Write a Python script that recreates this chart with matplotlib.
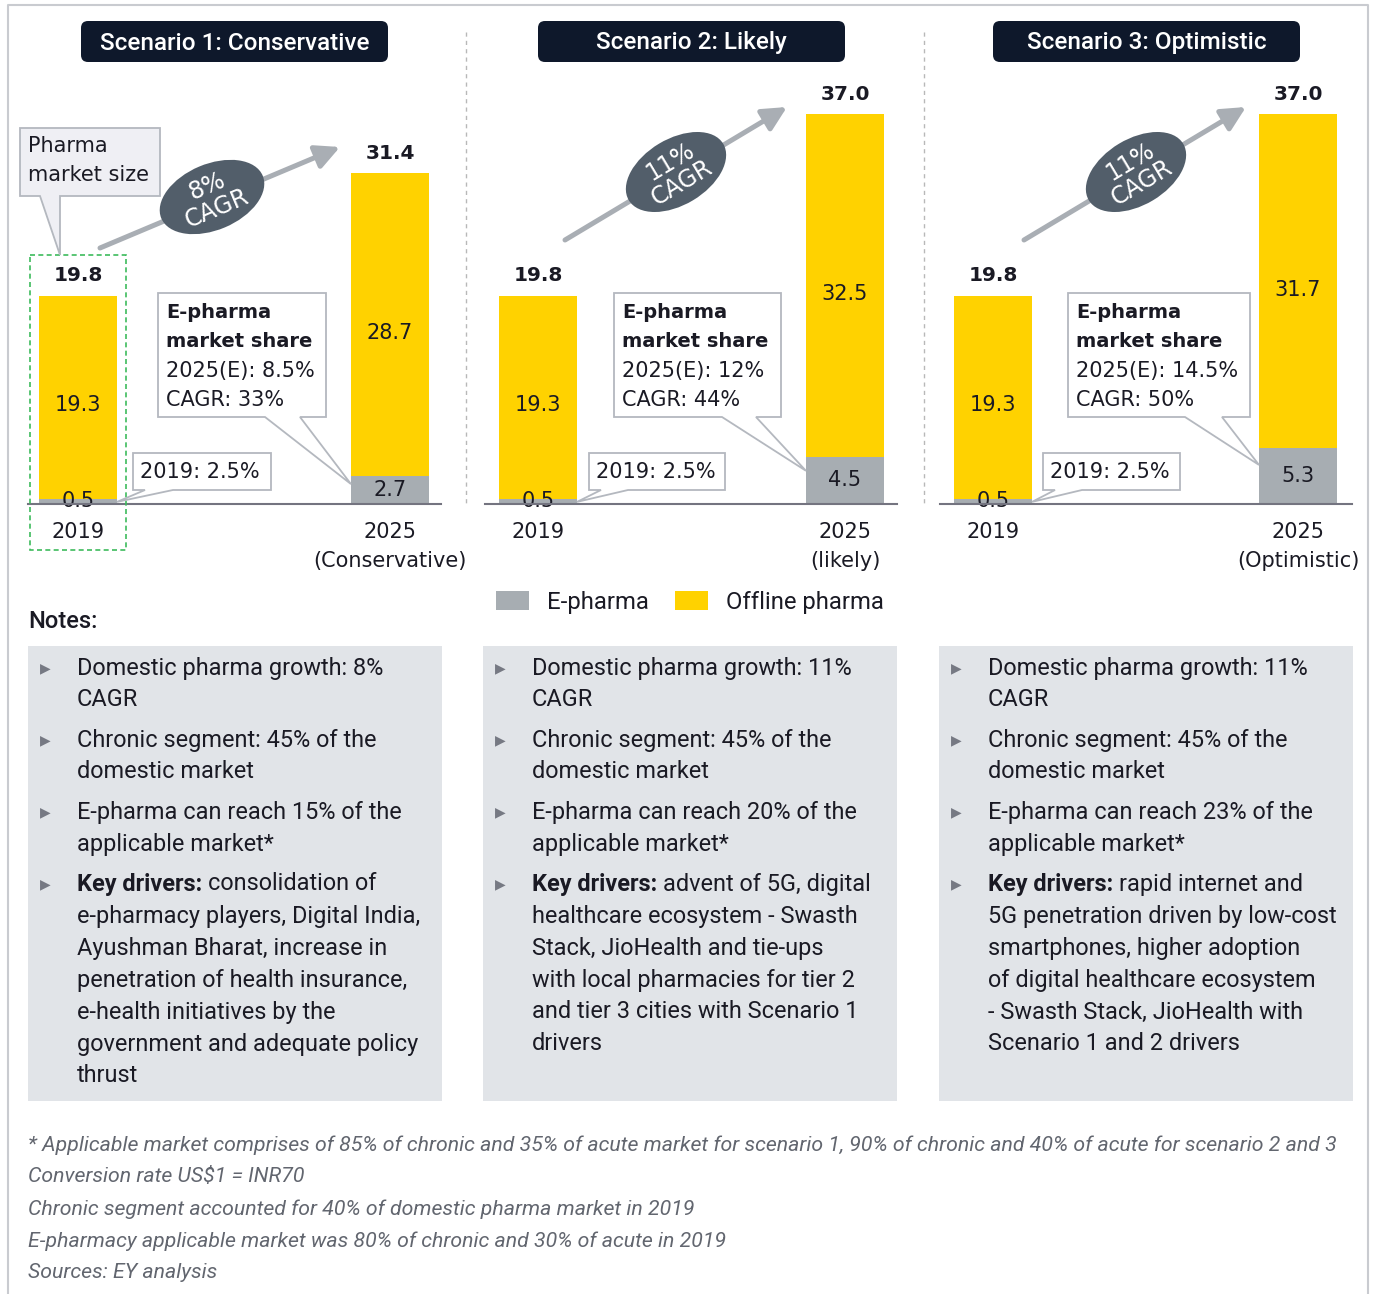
import matplotlib.pyplot as plt
from matplotlib.patches import Rectangle, Polygon, Ellipse, FancyBboxPatch, FancyArrowPatch
import numpy as np

# Market size (US$ billion) split into e-pharma and offline pharma
scenarios = ['Scenario 1: Conservative', 'Scenario 2: Likely', 'Scenario 3: Optimistic']
year_labels = [['2019', '2025\n(Conservative)'],
               ['2019', '2025\n(likely)'],
               ['2019', '2025\n(Optimistic)']]
epharma = [[0.5, 2.7], [0.5, 4.5], [0.5, 5.3]]
offline = [[19.3, 28.7], [19.3, 32.5], [19.3, 31.7]]
market_cagr = ['8%', '11%', '11%']
share_2019 = ['2.5%', '2.5%', '2.5%']
share_2025 = ['8.5%', '12%', '14.5%']
epharma_cagr = ['33%', '44%', '50%']

notes = [
    [['Domestic pharma growth: 8%', 'CAGR'],
     ['Chronic segment: 45% of the', 'domestic market'],
     ['E-pharma can reach 15% of the', 'applicable market*'],
     ['Key drivers: consolidation of', 'e-pharmacy players, Digital India,',
      'Ayushman Bharat, increase in', 'penetration of health insurance,',
      'e-health initiatives by the', 'government and adequate policy', 'thrust']],
    [['Domestic pharma growth: 11%', 'CAGR'],
     ['Chronic segment: 45% of the', 'domestic market'],
     ['E-pharma can reach 20% of the', 'applicable market*'],
     ['Key drivers: advent of 5G, digital', 'healthcare ecosystem - Swasth',
      'Stack, JioHealth and tie-ups', 'with local pharmacies for tier 2',
      'and tier 3 cities with Scenario 1', 'drivers']],
    [['Domestic pharma growth: 11%', 'CAGR'],
     ['Chronic segment: 45% of the', 'domestic market'],
     ['E-pharma can reach 23% of the', 'applicable market*'],
     ['Key drivers: rapid internet and', '5G penetration driven by low-cost',
      'smartphones, higher adoption', 'of digital healthcare ecosystem',
      '- Swasth Stack, JioHealth with', 'Scenario 1 and 2 drivers']],
]
footnotes = [
    '* Applicable market comprises of 85% of chronic and 35% of acute market for scenario 1, '
    '90% of chronic and 40% of acute for scenario 2 and 3',
    'Conversion rate US$1 = INR70',
    'Chronic segment accounted for 40% of domestic pharma market in 2019',
    'E-pharmacy applicable market was 80% of chronic and 30% of acute in 2019',
    'Sources: EY analysis',
]

YELLOW = '#FFD200'
GREY = '#A7ADB2'
NAVY = '#0E182B'
SLATE = '#525E6A'
ARROW = '#A9AEB4'
TXT = '#1A1A24'
NOTE_BG = '#E1E4E8'
EDGE = '#B4B8BF'
SANS2 = ['Roboto', 'DejaVu Sans']

plt.rcParams['font.family'] = ['DejaVu Sans']

W, H = 1375, 1294
fig = plt.figure(figsize=(W / 100, H / 100), dpi=100)

# pixel layout of the three bar panels
BASE = 504
PX_PER_UNIT = 10.53
YMAX = 45
bar_centres = [(78, 390), (538, 845), (993, 1298)]
axis_span = [(28, 441), (485, 897), (940, 1352)]
bar_px = 78

# overlay in pixel units for boxes, arrows and notes
ov = fig.add_axes([0, 0, 1, 1], zorder=5)
ov.set_xlim(0, W)
ov.set_ylim(H, 0)
ov.axis('off')
ov.patch.set_visible(False)


def to_px(ax, x, y):
    X, Y = ax.transData.transform((x, y))
    return X, H - Y


def callout(x0, y0, x1, y1, wl, wr, tip, face='white'):
    verts = [(x0, y0), (x1, y0), (x1, y1), (wr, y1), tip, (wl, y1), (x0, y1)]
    ov.add_patch(Polygon(verts, closed=True, fc=face, ec=EDGE, lw=1.3, zorder=3))


# callout boxes: (left, right) of e-pharma share box, wedge; 2019 box
share_box = [(158, 326, 265, 300), (614, 781, 722, 756), (1068, 1250, 1185, 1222)]
small_box = [(133, 271, 145, 173), (589, 725, 601, 628), (1043, 1180, 1055, 1082)]
arrows = [((100, 248), (340, 147)), ((565, 240), (787, 107)), ((1024, 240), (1246, 107))]
ellipse_c = [(212, 197), (676, 172), (1136, 172)]
title_left = [81, 538, 993]

handles = None
for i in range(3):
    c1, c2 = bar_centres[i]
    L, R = axis_span[i]
    scale = c2 - c1
    ax = fig.add_axes([L / W, 1 - BASE / H, (R - L) / W, YMAX * PX_PER_UNIT / H])
    ax.patch.set_visible(False)
    ax.set_xlim((L - c1) / scale, (R - c1) / scale)
    ax.set_ylim(0, YMAX)
    x = np.arange(2)
    width = bar_px / scale
    b1 = ax.bar(x, epharma[i], width, color=GREY, label='E-pharma', zorder=2)
    b2 = ax.bar(x, offline[i], width, bottom=epharma[i], color=YELLOW,
                label='Offline pharma', zorder=2)
    if handles is None:
        handles = [b1, b2]
    totals = np.add(epharma[i], offline[i])
    for xi, e, o, t in zip(x, epharma[i], offline[i], totals):
        ax.annotate(f'{t:.1f}', (xi, t), xytext=(0, 7.5), textcoords='offset points',
                    ha='center', va='bottom', fontsize=14.5, fontweight='bold', color=TXT)
        ax.annotate(f'{o:.1f}', (xi, e + o / 2), xytext=(0, -6), textcoords='offset points',
                    ha='center', va='center', fontsize=15, color=TXT, zorder=4)
        ax.text(xi, e / 2, f'{e:.1f}', ha='center', va='center', fontsize=15, color=TXT,
                zorder=4)
    for s in ['top', 'left', 'right']:
        ax.spines[s].set_visible(False)
    ax.spines['bottom'].set_color('#747480')
    ax.spines['bottom'].set_linewidth(1.5)
    ax.spines['bottom'].set_zorder(5)
    ax.set_yticks([])
    ax.set_xticks(x, year_labels[i], fontsize=15, color=TXT)
    for t in ax.get_xticklabels():
        t.set_linespacing(1.55)
    ax.tick_params(axis='x', length=0, pad=13)

    # scenario title
    tl = title_left[i]
    ov.add_patch(FancyBboxPatch((tl, 21), 307, 41, boxstyle='round,pad=0,rounding_size=7',
                                fc=NAVY, ec='none'))
    ov.text(tl + 153.5, 43, scenarios[i], color='white', fontsize=17.5, family=SANS2,
            fontweight='medium', ha='center', va='center')

    # CAGR arrow and badge
    (ax0, ay0), (ax1, ay1) = arrows[i]
    ov.add_patch(FancyArrowPatch((ax0, ay0), (ax1, ay1),
                                 arrowstyle='-|>,head_length=0.5,head_width=0.25',
                                 mutation_scale=29, lw=3.6, color=ARROW,
                                 shrinkA=0, shrinkB=0))
    ang = np.degrees(np.arctan2(ay0 - ay1, ax1 - ax0))
    ex, ey = ellipse_c[i]
    ov.add_patch(Ellipse((ex, ey), 110, 66, angle=-ang, fc=SLATE, ec='none', zorder=4))
    ov.text(ex, ey, f'{market_cagr[i]}\nCAGR', color='white', fontsize=17, rotation=ang,
            rotation_mode='anchor', ha='center', va='center', linespacing=1.0, zorder=5)

    # e-pharma share callout pointing at the 2025 e-pharma segment
    bx0, bx1, wl, wr = share_box[i]
    tip = to_px(ax, 1 - width / 2, epharma[i][1] * 0.7)
    callout(bx0, 293, bx1, 417, wl, wr, tip)
    lines = ['E-pharma', 'market share', f'2025(E): {share_2025[i]}', f'CAGR: {epharma_cagr[i]}']
    for k, line in enumerate(lines):
        bold = k < 2
        ov.text(bx0 + 8, 312 + k * 29.3, line, fontsize=14 if bold else 15, color=TXT,
                va='center', fontweight='bold' if bold else 'normal', zorder=5)

    # 2019 share callout
    sx0, sx1, swl, swr = small_box[i]
    tip = to_px(ax, width / 2, epharma[i][0] * 0.4)
    callout(sx0, 453, sx1, 490, swl, swr, tip)
    ov.text(sx0 + 7, 472, f'2019: {share_2019[i]}', fontsize=15, color=TXT, va='center',
            zorder=5)

    if i == 0:
        # pharma market size label and highlight around the 2019 bar
        callout(20, 128, 160, 196, 40, 60, (60, 255), face='#EFEFF4')
        ov.text(28, 146, 'Pharma', fontsize=15, color=TXT, va='center', zorder=5)
        ov.text(28, 175, 'market size', fontsize=15, color=TXT, va='center', zorder=5)
        lx, _ = to_px(ax, -width / 2, 0)
        rx, _ = to_px(ax, width / 2, 0)
        ov.add_patch(Rectangle((lx - 9, 255), rx - lx + 18, 295, fill=False,
                               ec='#3DBB5C', lw=1.2, ls=(0, (3, 2))))

# dashed dividers and outer frame
for xd in [466, 924]:
    ov.plot([xd, xd], [32, 505], color='#B8B8B8', lw=1, ls=(0, (3, 3)))
ov.plot([8, 8, 1368, 1368], [H, 5, 5, H], color='#C9CBD0', lw=1.5)

fig.legend(handles, ['E-pharma', 'Offline pharma'], loc='center',
           bbox_to_anchor=(690 / W, 1 - 602 / H), ncol=2, frameon=False,
           prop={'family': SANS2, 'size': 17.2}, handlelength=1.38, handleheight=0.84,
           handletextpad=0.75, columnspacing=1.08, labelcolor=TXT)

ov.text(28, 621, 'Notes:', fontsize=17, family=SANS2, fontweight='medium', color=TXT,
        va='center')

renderer = fig.canvas.get_renderer()
note_left = [28, 483, 939]
for i, items in enumerate(notes):
    nx = note_left[i]
    ov.add_patch(Rectangle((nx, 646), 414, 455, fc=NOTE_BG, ec='none', zorder=1))
    y = 668
    for item in items:
        ov.text(nx + 12, y, '\u25B6', fontsize=10, color='#767983', va='center', zorder=2)
        for line in item:
            tx = nx + 49
            if line.startswith('Key drivers:'):
                t = ov.text(tx, y, 'Key drivers:', fontsize=16.9, family=SANS2,
                            fontweight='bold', color=TXT, va='center', zorder=2)
                bb = t.get_window_extent(renderer)
                tx = bb.x1 + 6
                line = line[len('Key drivers:'):].strip()
            ov.text(tx, y, line, fontsize=16.9, family=SANS2, color=TXT, va='center', zorder=2)
            y += 32
        y += 8

for k, line in enumerate(footnotes):
    ov.text(28, 1145 + 32 * k, line, fontsize=15.3, family=SANS2, style='italic',
            color='#62666F', va='center')

fig.savefig('out.png', dpi=100)
